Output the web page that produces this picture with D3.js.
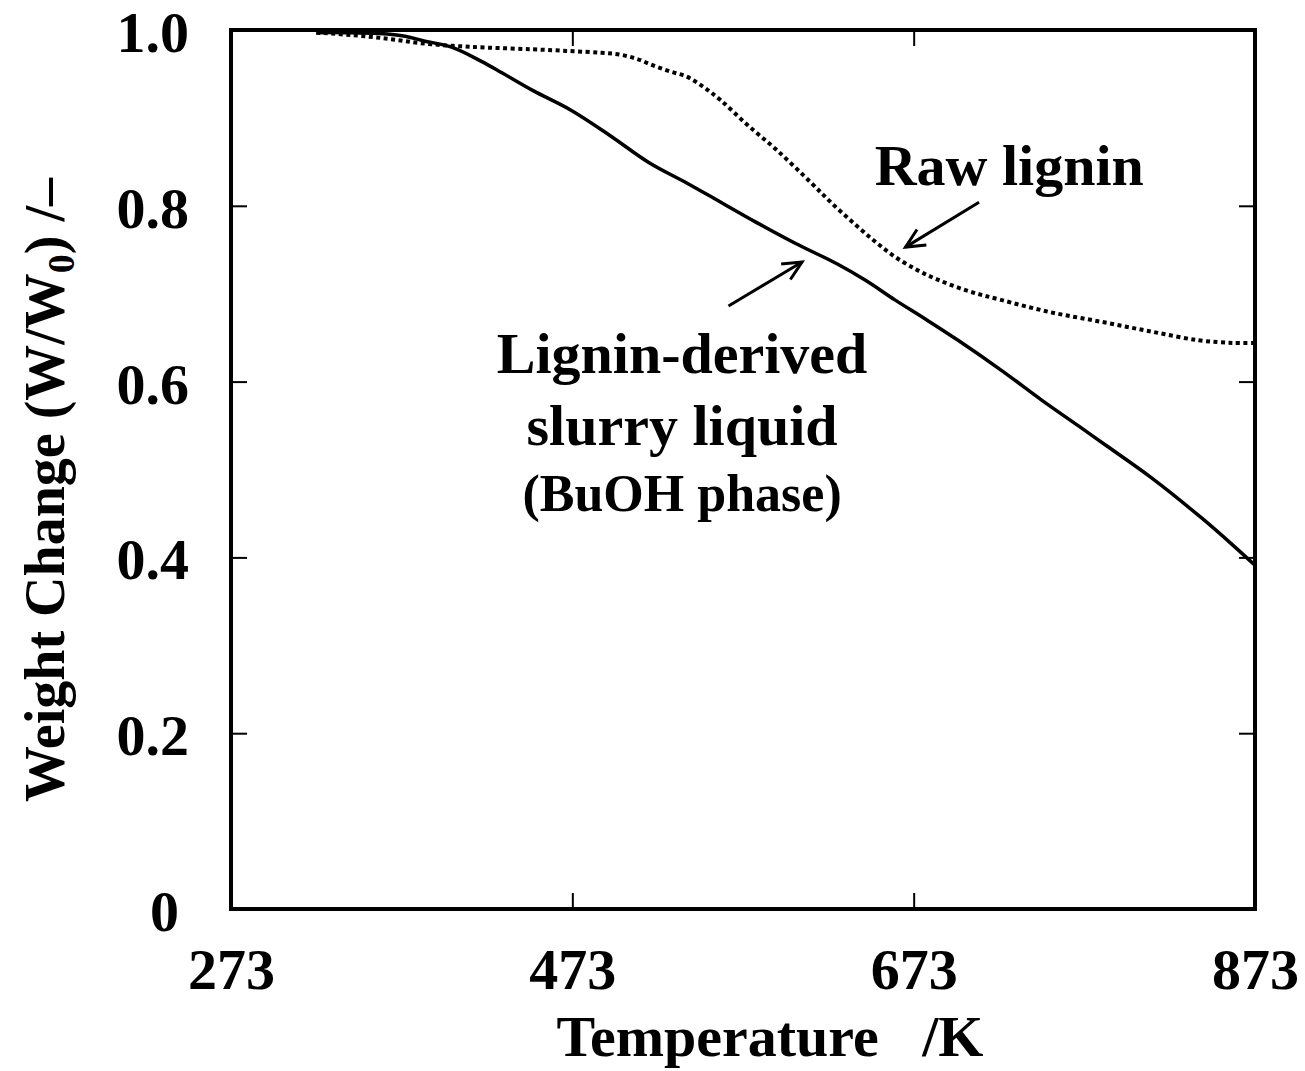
<!DOCTYPE html>
<html>
<head>
<meta charset="utf-8">
<script src="https://cdn.jsdelivr.net/npm/d3@7"></script>
<style>
  html, body { margin: 0; padding: 0; background: #fff; }
  svg { display: block; }
  text { font-family: "Liberation Serif", "Times New Roman", serif; font-weight: bold; fill: #000; }
</style>
</head>
<body>
<svg id="chart" width="1305" height="1071"></svg>
<script>
// Thermogravimetric weight change, W/W0, versus temperature (K)
const slurryTemp = [323, 340, 360, 375, 385, 403, 420, 432, 450, 472, 495, 518, 540, 560, 580, 603, 628, 645, 662, 680, 699, 725, 748, 770, 786, 812, 841, 860, 873];
const slurryWeight = [0.997, 0.997, 0.996, 0.993, 0.988, 0.980, 0.964, 0.951, 0.931, 0.909, 0.880, 0.849, 0.826, 0.804, 0.782, 0.758, 0.734, 0.715, 0.693, 0.671, 0.647, 0.612, 0.579, 0.549, 0.527, 0.491, 0.446, 0.414, 0.391];

const rawTemp = [323, 345, 365, 384, 403, 423, 450, 472, 490, 501, 511, 520, 530, 540, 550, 560, 575, 593, 613, 625, 638, 650, 662, 675, 687, 705, 724, 753, 783, 812, 840, 860, 873];
const rawWeight = [0.997, 0.994, 0.990, 0.985, 0.982, 0.980, 0.978, 0.976, 0.974, 0.972, 0.967, 0.960, 0.953, 0.947, 0.935, 0.920, 0.893, 0.863, 0.826, 0.803, 0.780, 0.760, 0.742, 0.727, 0.716, 0.703, 0.693, 0.679, 0.668, 0.657, 0.647, 0.644, 0.644];

const xTicks = [273, 473, 673, 873];
const yTicks = [0, 0.2, 0.4, 0.6, 0.8, 1.0];

// Annotation anchors in data units: [temperature, weight]
const rawLabel = { text: "Raw lignin", at: [729, 0.824] };
const rawArrow = { from: [711.3, 0.804], to: [668.2, 0.753] };
const slurryLabel = { lines: ["Lignin-derived", "slurry liquid", "(BuOH phase)"], at: [537.3, 0.610] };
const slurryArrow = { from: [564.5, 0.686], to: [607.6, 0.736] };

const svg = d3.select("#chart");
const plotLeft = 231, plotRight = 1255, plotTop = 30, plotBottom = 909;
const FS = 58;

const x = d3.scaleLinear().domain([273, 873]).range([plotLeft, plotRight]);
const y = d3.scaleLinear().domain([0, 1]).range([plotBottom, plotTop]);

// Arrowhead
svg.append("defs").append("marker")
  .attr("id", "arrowhead")
  .attr("markerUnits", "userSpaceOnUse")
  .attr("viewBox", "-22 -12 26 24")
  .attr("refX", 0).attr("refY", 0)
  .attr("markerWidth", 26).attr("markerHeight", 24)
  .attr("orient", "auto")
  .append("path")
  .attr("d", "M-19,-9 L0,0 L-19,9")
  .attr("fill", "none").attr("stroke", "#000").attr("stroke-width", 3);

// Axes (inward ticks, mirrored on top and right)
const fmtY = d => d === 0 ? "0" : d3.format(".1f")(d);

const gLeft = svg.append("g").attr("transform", `translate(${plotLeft},0)`)
  .call(d3.axisLeft(y).tickValues(yTicks).tickSize(-16).tickPadding(42).tickFormat(fmtY));
const gBottom = svg.append("g").attr("transform", `translate(0,${plotBottom})`)
  .call(d3.axisBottom(x).tickValues(xTicks).tickSize(-16).tickPadding(39).tickFormat(d3.format("d")));
const gRight = svg.append("g").attr("transform", `translate(${plotRight},0)`)
  .call(d3.axisRight(y).tickValues(yTicks).tickSize(-16).tickFormat(""));
const gTop = svg.append("g").attr("transform", `translate(0,${plotTop})`)
  .call(d3.axisTop(x).tickValues(xTicks).tickSize(-16).tickFormat(""));

[gLeft, gBottom, gRight, gTop].forEach(g => {
  g.select(".domain").remove();
  g.selectAll(".tick line").attr("stroke", "#000").attr("stroke-width", 2);
  g.selectAll(".tick text").attr("font-size", FS).attr("fill", "#000")
    .style("font-family", '"Liberation Serif", "Times New Roman", serif').style("font-weight", "bold");
});
gLeft.selectAll(".tick text").attr("dy", "0.37em");
gLeft.selectAll(".tick text").filter(d => d === 0).attr("dx", -10);

// Frame
svg.append("rect")
  .attr("x", plotLeft).attr("y", plotTop)
  .attr("width", plotRight - plotLeft).attr("height", plotBottom - plotTop)
  .attr("fill", "none").attr("stroke", "#000").attr("stroke-width", 4);

// Curves
const line = d3.line().x(d => x(d[0])).y(d => y(d[1])).curve(d3.curveCatmullRom.alpha(0.5));

svg.append("path")
  .datum(rawTemp.map((t, i) => [t, rawWeight[i]]))
  .attr("d", line)
  .attr("fill", "none").attr("stroke", "#000")
  .attr("stroke-width", 4).attr("stroke-dasharray", "4,3.5");

svg.append("path")
  .datum(slurryTemp.map((t, i) => [t, slurryWeight[i]]))
  .attr("d", line)
  .attr("fill", "none").attr("stroke", "#000")
  .attr("stroke-width", 3.5).attr("stroke-linejoin", "round");

// Annotations
svg.append("text")
  .attr("x", x(rawLabel.at[0])).attr("y", y(rawLabel.at[1]))
  .attr("text-anchor", "middle").attr("font-size", FS)
  .text(rawLabel.text);

[rawArrow, slurryArrow].forEach(a => {
  svg.append("line")
    .attr("x1", x(a.from[0])).attr("y1", y(a.from[1]))
    .attr("x2", x(a.to[0])).attr("y2", y(a.to[1]))
    .attr("stroke", "#000").attr("stroke-width", 3)
    .attr("marker-end", "url(#arrowhead)");
});

const sl = svg.append("text")
  .attr("x", x(slurryLabel.at[0])).attr("y", y(slurryLabel.at[1]))
  .attr("text-anchor", "middle").attr("font-size", FS);
sl.append("tspan").attr("x", x(slurryLabel.at[0])).text(slurryLabel.lines[0]);
sl.append("tspan").attr("x", x(slurryLabel.at[0])).attr("dy", 72).text(slurryLabel.lines[1]);
sl.append("tspan").attr("x", x(slurryLabel.at[0])).attr("dy", 66).attr("font-size", 52).text(slurryLabel.lines[2]);

// Axis titles
svg.append("text")
  .attr("x", 770).attr("y", 1056)
  .attr("text-anchor", "middle").attr("font-size", FS)
  .attr("xml:space", "preserve").style("white-space", "pre")
  .text("Temperature   /K");

const yt = svg.append("text")
  .attr("transform", "translate(64,490) rotate(-90)")
  .attr("text-anchor", "middle").attr("font-size", 56);
yt.append("tspan").text("Weight Change (W/W");
yt.append("tspan").attr("font-size", 38).attr("dy", 10).text("0");
yt.append("tspan").attr("dy", -10).text(") /\u2013");
</script>
</body>
</html>
